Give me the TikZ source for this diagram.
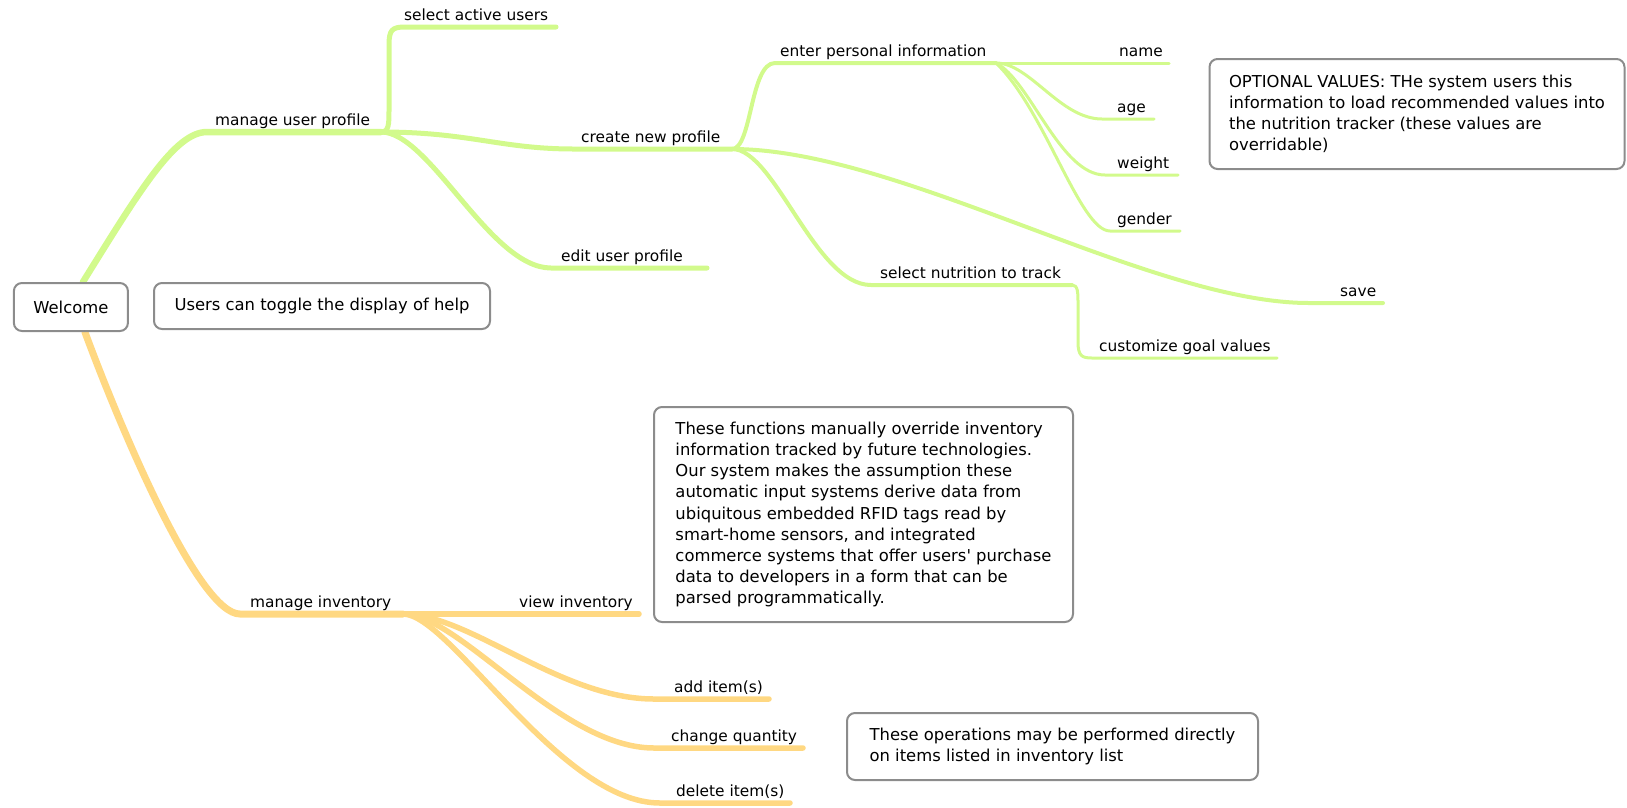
\documentclass[tikz,border=0pt]{standalone}
\usepackage{fontspec}
\setmainfont{DejaVu Sans}
\usetikzlibrary{backgrounds}
\definecolor{branchgreen}{RGB}{210,250,140}
\definecolor{branchorange}{RGB}{255,216,130}
\definecolor{boxgray}{RGB}{140,140,140}

\begin{document}
\begin{tikzpicture}[x=1pt,y=-1pt,
  lbl/.style={anchor=base west, inner sep=0pt, font=\fontsize{15.4}{18}\selectfont},
  note/.style={draw=boxgray, line width=2pt, rounded corners=8pt, fill=white,
    align=left, inner sep=0pt, font=\fontsize{16.4}{21.2}\selectfont},
  gA/.style={draw=branchgreen, line width=6.5pt, line cap=round},
  gB/.style={draw=branchgreen, line width=5pt, line cap=round},
  gC/.style={draw=branchgreen, line width=4pt, line cap=round},
  gD/.style={draw=branchgreen, line width=3pt, line cap=round},
  oA/.style={draw=branchorange, line width=7pt, line cap=round},
  oB/.style={draw=branchorange, line width=5.5pt, line cap=round},
]
\useasboundingbox (0,0) rectangle (1627,807);

% ---- boxes ----
\node[note, minimum width=114pt, minimum height=48pt] (welcome) at (70.9,307) {Welcome};
\node[note, minimum width=336pt, minimum height=46pt] (help) at (322,306) {Users can toggle the display of help};
\node[note, minimum width=415pt, minimum height=110pt] (optional) at (1417,114)
  {OPTIONAL VALUES: THe system users this\\information to load recommended values into\\the nutrition tracker (these values are\\overridable)};
\node[note, minimum width=419pt, minimum height=215pt] (invnote) at (863.5,514.5)
  {These functions manually override inventory\\information tracked by future technologies.\\Our system makes the assumption these\\automatic input systems derive data from\\ubiquitous embedded RFID tags read by\\smart-home sensors, and integrated\\commerce systems that offer users\textquotesingle{} purchase\\data to developers in a form that can be\\parsed programmatically.};
\node[note, minimum width=411pt, minimum height=67pt] (opsnote) at (1052.5,746.5)
  {These operations may be performed directly\\on items listed in inventory list};

% ---- underline end points ----
\coordinate (mup-s) at (207,132);  \coordinate (mup-e) at (381,132);
\coordinate (sau-s) at (405,27);   \coordinate (sau-e) at (556,27);
\coordinate (cnp-s) at (574,149);  \coordinate (cnp-e) at (732,149);
\coordinate (eup-s) at (551,268);  \coordinate (eup-e) at (707,268);
\coordinate (epi-s) at (775,63);   \coordinate (epi-e) at (996,63);
\coordinate (nam-e) at (1169,63);
\coordinate (age-s) at (1102,119); \coordinate (age-e) at (1154,119);
\coordinate (wgt-s) at (1105,175); \coordinate (wgt-e) at (1178,175);
\coordinate (gen-s) at (1110,231); \coordinate (gen-e) at (1180,231);
\coordinate (snt-s) at (871,285);  \coordinate (snt-e) at (1072,285);
\coordinate (sav-s) at (1309,303); \coordinate (sav-e) at (1383,303);
\coordinate (cgv-s) at (1092,358); \coordinate (cgv-e) at (1277,358);
\coordinate (min-s) at (240,614);  \coordinate (min-e) at (403,614);
\coordinate (vin-e) at (639,614);
\coordinate (add-s) at (654,699);  \coordinate (add-e) at (769,699);
\coordinate (chq-s) at (654,748);  \coordinate (chq-e) at (803,748);
\coordinate (del-s) at (660,803);  \coordinate (del-e) at (790,803);

% ---- labels ----
\node[lbl] (l-mup) at (215,125) {manage user profile};
\node[lbl] (l-sau) at (404,20)  {select active users};
\node[lbl] (l-cnp) at (581,142) {create new profile};
\node[lbl] (l-eup) at (561,261) {edit user profile};
\node[lbl] (l-epi) at (780,56)  {enter personal information};
\node[lbl] (l-nam) at (1119,56) {name};
\node[lbl] (l-age) at (1117,112) {age};
\node[lbl] (l-wgt) at (1117,168) {weight};
\node[lbl] (l-gen) at (1117,224) {gender};
\node[lbl] (l-snt) at (880,278) {select nutrition to track};
\node[lbl] (l-sav) at (1340,296) {save};
\node[lbl] (l-cgv) at (1099,351) {customize goal values};
\node[lbl] (l-min) at (250,607) {manage inventory};
\node[lbl] (l-vin) at (519,607) {view inventory};
\node[lbl] (l-add) at (674,692) {add item(s)};
\node[lbl] (l-chq) at (671,741) {change quantity};
\node[lbl] (l-del) at (676,796) {delete item(s)};

% ---- branches ----
\begin{pgfonlayer}{background}
% user profile branch
\draw[gA] ([xshift=12pt]welcome.north) .. controls (140,190) and (175,132) .. (mup-s) -- (mup-e);
\draw[gB] (mup-e) .. controls (389,132) and (389,124) .. (389,110) -- (389,45)
  .. controls (389,30) and (392,27) .. (sau-s) -- (sau-e);
\draw[gB] (mup-e) .. controls (470,132) and (500,149) .. (cnp-s) -- (cnp-e);
\draw[gB] (mup-e) .. controls (430,132) and (490,268) .. (eup-s) -- (eup-e);
\draw[gC] (cnp-e) .. controls (752,149) and (750,63) .. (epi-s) -- (epi-e);
\draw[gD] (epi-e) -- (nam-e);
\draw[gD] (epi-e) .. controls (1030,63) and (1060,119) .. (age-s) -- (age-e);
\draw[gD] (epi-e) .. controls (1030,80) and (1060,175) .. (wgt-s) -- (wgt-e);
\draw[gD] (epi-e) .. controls (1045,110) and (1080,231) .. (gen-s) -- (gen-e);
\draw[gC] (cnp-e) .. controls (775,149) and (815,285) .. (snt-s) -- (snt-e);
\draw[gC] (cnp-e) .. controls (900,149) and (1150,303) .. (sav-s) -- (sav-e);
\draw[gD] (snt-e) .. controls (1078,285) and (1078,292) .. (1078,305) -- (1078,342)
  .. controls (1078,356) and (1082,358) .. (cgv-s) -- (cgv-e);
% inventory branch
\draw[oA] ([xshift=14pt]welcome.south) .. controls (125,440) and (200,614) .. (min-s) -- (min-e);
\draw[oB] (min-e) -- (vin-e);
\draw[oB] (min-e) .. controls (470,614) and (560,699) .. (add-s) -- (add-e);
\draw[oB] (min-e) .. controls (460,614) and (560,748) .. (chq-s) -- (chq-e);
\draw[oB] (min-e) .. controls (450,614) and (560,803) .. (del-s) -- (del-e);
\end{pgfonlayer}
\end{tikzpicture}
\end{document}
